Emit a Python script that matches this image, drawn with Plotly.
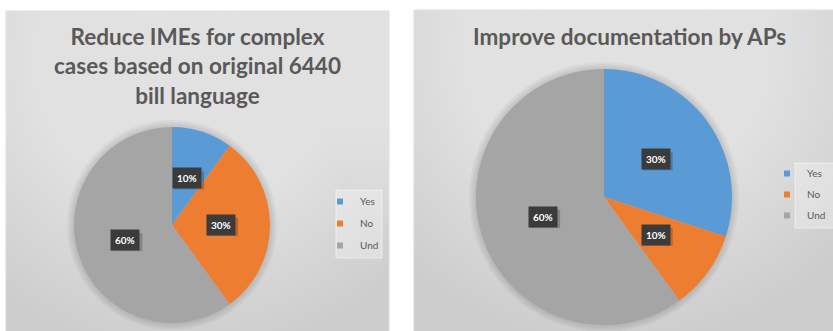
import math
import plotly.graph_objects as go

W, H = 833, 331

labels = ["Yes", "No", "Und"]
left_values = [10, 30, 60]
right_values = [30, 10, 60]
left_title = "Reduce IMEs for complex<br>cases based on original 6440<br>bill language"
right_title = "Improve documentation by APs"
colors = ["#5B9BD5", "#ED7D31", "#A5A5A5"]

# layout geometry (pixels)
LEFT_PANEL = (6, 11, 389, 340)
RIGHT_PANEL = (414, 10, 840, 340)
LEFT_PIE = (172, 225, 98)
RIGHT_PIE = (604, 197, 128)
FONT = "Lato, 'Open Sans', sans-serif"
TXT = "#595959"


def px(x):
    return x / W


def py(y):
    return 1 - y / H


def domain(c):
    cx, cy, r = c
    return dict(x=[px(cx - r), px(cx + r)], y=[py(cy + r), py(cy - r)])


fig = go.Figure()
fig.add_trace(go.Pie(labels=labels, values=left_values, sort=False, direction="clockwise",
                     rotation=0, marker=dict(colors=colors), textinfo="none",
                     domain=domain(LEFT_PIE), showlegend=False, hoverinfo="label+percent"))
fig.add_trace(go.Pie(labels=labels, values=right_values, sort=False, direction="clockwise",
                     rotation=0, marker=dict(colors=colors), textinfo="none",
                     domain=domain(RIGHT_PIE), showlegend=False, hoverinfo="label+percent"))

# legend entries (small square keys like the original)
for leg in ["legend", "legend2"]:
    for lab, col in zip(labels, colors):
        fig.add_trace(go.Scatter(x=[None], y=[None], mode="markers", name=lab,
                                 marker=dict(symbol="square", size=6, color=col),
                                 legend=leg, legendgroup=leg + lab, showlegend=True))

shapes = []
annotations = []
for (x0, y0, x1, y1), (cx, cy, r), gcy in [(LEFT_PANEL, LEFT_PIE, 60), (RIGHT_PANEL, RIGHT_PIE, 50)]:
    shapes.append(dict(type="rect", xref="paper", yref="paper", x0=px(x0), x1=px(x1),
                       y0=py(y1), y1=py(y0), fillcolor="#cdcdcd",
                       line=dict(color="#d9d9d9", width=1), layer="below"))
    gcx = (x0 + x1) / 2 - 10
    n = 40
    for k in range(n):
        rx = 300 - k * 300 / n
        ry = 290 - k * 290 / n
        shapes.append(dict(type="circle", xref="paper", yref="paper",
                           x0=px(gcx - rx), x1=px(gcx + rx), y0=py(gcy + ry), y1=py(gcy - ry),
                           fillcolor="rgba(255,255,255,0.033)", line=dict(width=0), layer="below"))
    # soft shadow around pie
    for k in range(4):
        rr = r + 7 - 2 * k
        shapes.append(dict(type="circle", xref="paper", yref="paper",
                           x0=px(cx - rr), x1=px(cx + rr), y0=py(cy + rr), y1=py(cy - rr),
                           fillcolor="rgba(0,0,0,0.035)", line=dict(width=0), layer="below"))

# legend boxes
for bx0, by0, bx1, by1 in [(336, 190, 382, 258), (795, 163, 840, 228)]:
    shapes.append(dict(type="rect", xref="paper", yref="paper", x0=px(bx0), x1=px(bx1),
                       y0=py(by1), y1=py(by0), fillcolor="rgba(255,255,255,0.3)",
                       line=dict(color="rgba(255,255,255,0.5)", width=1), layer="below"))

# titles
annotations.append(dict(text=left_title, x=px(197), y=py(66), xref="paper", yref="paper",
                        showarrow=False, xanchor="center", yanchor="middle",
                        font=dict(family=FONT, size=22.5, color=TXT, weight="bold")))
annotations.append(dict(text=right_title, x=px(629), y=py(37), xref="paper", yref="paper",
                        showarrow=False, xanchor="center", yanchor="middle",
                        font=dict(family=FONT, size=22.5, color=TXT, weight="bold")))

# data labels
for vals, (cx, cy, r) in [(left_values, LEFT_PIE), (right_values, RIGHT_PIE)]:
    total = sum(vals)
    cum = 0
    for v in vals:
        a = math.radians((cum + v / 2) / total * 360)
        cum += v
        lx = cx + 0.5 * r * math.sin(a)
        ly = cy - 0.5 * r * math.cos(a)
        txt = f"{round(v / total * 100)}%"
        shapes.append(dict(type="rect", xref="paper", yref="paper",
                           x0=px(lx - 13), x1=px(lx + 17), y0=py(ly + 11), y1=py(ly - 7),
                           fillcolor="rgba(0,0,0,0.2)", line=dict(width=0), layer="above"))
        annotations.append(dict(text=txt, x=px(lx), y=py(ly), xref="paper", yref="paper",
                                xanchor="center", yanchor="middle",
                                showarrow=False, bgcolor="#3b3b3b", borderpad=4,
                                font=dict(family=FONT, size=10, color="white", weight="bold")))

fig.update_layout(
    width=W, height=H,
    margin=dict(l=0, r=0, t=0, b=0),
    paper_bgcolor="white", plot_bgcolor="rgba(0,0,0,0)",
    xaxis=dict(visible=False), yaxis=dict(visible=False),
    shapes=shapes, annotations=annotations,
    legend=dict(x=px(320), y=py(187), xanchor="left", yanchor="top",
                bgcolor="rgba(0,0,0,0)", font=dict(family=FONT, size=10, color=TXT),
                itemwidth=30, tracegroupgap=3),
    legend2=dict(x=px(767), y=py(159), xanchor="left", yanchor="top",
                 bgcolor="rgba(0,0,0,0)", font=dict(family=FONT, size=10, color=TXT),
                 itemwidth=30, tracegroupgap=2),
)

fig.write_html("out.html", config={"displayModeBar": False},
               post_script="document.body.style.margin='0';")
